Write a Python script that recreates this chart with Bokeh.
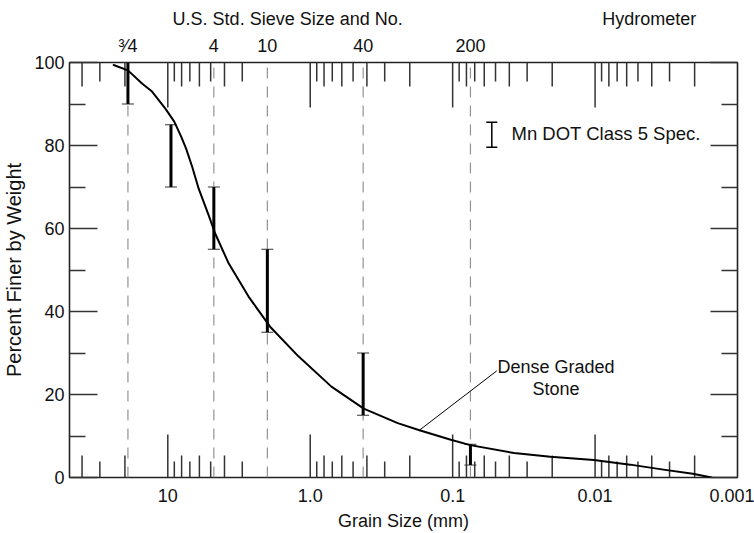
from bokeh.plotting import figure
from bokeh.models import (Range1d, FixedTicker, LogAxis, LinearAxis, Label,
                          Whisker, TeeHead, ColumnDataSource)
from bokeh.embed import file_html
from bokeh.resources import INLINE

FONT = "Liberation Sans"

# Gradation curve of the dense graded stone: grain size (mm) vs percent finer
grain_mm = [24.0, 19.05, 15.1, 12.9, 10.4, 9.03, 8.07, 7.45, 6.76, 6.07, 5.17,
            4.65, 3.74, 2.71, 1.92, 1.21, 0.71, 0.421, 0.243, 0.171, 0.103,
            0.0753, 0.0371, 0.0206, 0.0102, 0.00567, 0.00331, 0.00206, 0.00152]
pct_finer = [99.4, 98.1, 94.9, 93.0, 88.9, 85.8, 82.2, 79.3, 75.0, 69.6, 63.2,
             58.8, 51.6, 43.6, 36.4, 29.2, 21.9, 16.6, 13.1, 11.4, 9.1,
             7.8, 5.9, 5.0, 4.2, 3.1, 1.9, 0.9, 0.0]

# Mn DOT Class 5 specification band at each sieve
spec_mm = [19.05, 9.5, 4.75, 2.0, 0.425, 0.075]
spec_low = [90, 70, 55, 35, 15, 3]
spec_high = [100, 85, 70, 55, 30, 8]

# U.S. standard sieves marked with dashed lines
sieve_mm = [19.05, 4.75, 2.0, 0.425, 0.075]
sieve_names = ["\u00b3\u20444", "4", "10", "40", "200"]

# Headings over the sieve and hydrometer parts of the scale
heading_mm = [1.44, 0.00417]
heading_names = ["U.S. Std. Sieve Size and No.", "Hydrometer"]

# Axis ticks
x_decades = [10, 1, 0.1, 0.01, 0.001]
x_decade_labels = ["10", "1.0", "0.1", "0.01", "0.001"]
y_major = [0, 20, 40, 60, 80, 100]
y_minor = [10, 30, 50, 70, 90]

X_MAX, X_MIN = 49.0, 0.001
Y_MIN, Y_MAX = 0, 100
W, H = 754, 533
B_LEFT, B_RIGHT, B_TOP, B_BOTTOM = 67, 17, 62, 55
px = (Y_MAX - Y_MIN) / (H - B_TOP - B_BOTTOM)   # percent per screen pixel

TICK = "#333333"
TEXT = "#111111"

p = figure(width=W, height=H, x_axis_type="log",
           x_range=Range1d(X_MAX, X_MIN), y_range=Range1d(Y_MIN, Y_MAX),
           output_backend="svg", toolbar_location=None,
           min_border_left=B_LEFT, min_border_right=B_RIGHT,
           min_border_top=B_TOP, min_border_bottom=B_BOTTOM)
p.grid.visible = False
p.outline_line_color = "#222222"
p.outline_line_width = 1.6
p.background_fill_color = "white"
p.border_fill_color = "white"

# dashed sieve lines
n_sieve = len(sieve_mm)
p.segment(x0=sieve_mm, x1=sieve_mm, y0=[Y_MIN] * n_sieve, y1=[Y_MAX] * n_sieve,
          line_color="#929292", line_width=1.2, line_dash="11 8")


# log-paper minor ticks: even multiples long, odd multiples short
def minor_ticks(parity):
    out = []
    for base in x_decades:
        for m in range(2, 10):
            v = base * m
            if m % 2 != parity or not (X_MIN < v < X_MAX):
                continue
            if any(abs(v - s) / s < 0.01 for s in sieve_mm):
                continue
            out.append(v)
    return out


def edge_ticks(xs, bottom_len, top_len):
    n = len(xs)
    p.segment(x0=xs, x1=xs, y0=[Y_MIN] * n, y1=[Y_MIN + bottom_len * px] * n,
              line_color=TICK, line_width=1.5)
    p.segment(x0=xs, x1=xs, y0=[Y_MAX] * n, y1=[Y_MAX - top_len * px] * n,
              line_color=TICK, line_width=1.5)


edge_ticks(minor_ticks(0), 22, 24)
edge_ticks(minor_ticks(1), 16, 19)
edge_ticks([d for d in x_decades if d > X_MIN], 43, 45)

# specification bars
spec = ColumnDataSource(dict(mm=spec_mm, lo=spec_low, hi=spec_high))
p.segment(x0="mm", x1="mm", y0="lo", y1="hi", source=spec,
          line_color="black", line_width=3)
p.add_layout(Whisker(source=spec, base="mm", lower="lo", upper="hi",
                     dimension="height", line_alpha=0,
                     lower_head=TeeHead(size=12, line_width=1, line_color=TICK),
                     upper_head=TeeHead(size=12, line_width=1, line_color=TICK)))

# gradation curve
p.line(grain_mm, pct_finer, line_color="black", line_width=2,
       line_join="round", line_cap="round")

# callout for the curve
p.line([0.171, 0.049], [11.4, 25.7], line_color="black", line_width=1)


def label(x, y, text, size="18px", align="center"):
    p.add_layout(Label(x=x, y=y, text=text, text_font=FONT, text_font_size=size,
                       text_align=align, text_baseline="middle",
                       text_color=TEXT))


label(0.0188, 26.7, "Dense Graded")
label(0.0188, 21.4, "Stone")

# legend
legend_src = ColumnDataSource(dict(x=[0.0531], lo=[79.6], hi=[85.6]))
p.add_layout(Whisker(source=legend_src, base="x", lower="lo", upper="hi",
                     dimension="height", line_width=1.5, line_color="black",
                     lower_head=TeeHead(size=11, line_width=1.5, line_color="black"),
                     upper_head=TeeHead(size=11, line_width=1.5, line_color="black")))
label(0.0386, 82.9, "Mn DOT Class 5 Spec.", size="18.5px", align="left")

# bottom axis
xa = p.xaxis[0]
xa.ticker = FixedTicker(ticks=x_decades)
xa.major_label_overrides = dict(zip(x_decades, x_decade_labels))
xa.major_tick_line_color = None
xa.minor_tick_line_color = None
xa.axis_line_color = None
xa.major_label_text_font = FONT
xa.major_label_text_font_size = "18px"
xa.major_label_text_color = TEXT
xa.major_label_standoff = 5
xa.axis_label = "Grain Size (mm)"
xa.axis_label_text_font = FONT
xa.axis_label_text_font_size = "18px"
xa.axis_label_text_font_style = "normal"
xa.axis_label_text_color = TEXT
xa.axis_label_standoff = 6

# left axis
ya = p.yaxis[0]
ya.ticker = FixedTicker(ticks=y_major, minor_ticks=y_minor)
ya.major_tick_in = 28
ya.major_tick_out = 0
ya.minor_tick_in = 16
ya.minor_tick_out = 0
ya.major_tick_line_color = TICK
ya.minor_tick_line_color = TICK
ya.major_tick_line_width = 1.5
ya.minor_tick_line_width = 1.5
ya.axis_line_color = None
ya.major_label_text_font = FONT
ya.major_label_text_font_size = "18px"
ya.major_label_text_color = TEXT
ya.major_label_standoff = 5
ya.axis_label = "Percent Finer by Weight"
ya.axis_label_text_font = FONT
ya.axis_label_text_font_size = "20px"
ya.axis_label_text_font_style = "normal"
ya.axis_label_text_color = TEXT
ya.axis_label_standoff = 6

# mirrored y ticks on the right edge (no labels)
p.add_layout(LinearAxis(ticker=FixedTicker(ticks=y_major, minor_ticks=y_minor),
                        major_tick_in=27, major_tick_out=0,
                        minor_tick_in=16, minor_tick_out=0,
                        major_tick_line_color=TICK, minor_tick_line_color=TICK,
                        major_tick_line_width=1.5, minor_tick_line_width=1.5,
                        major_label_text_font_size="8px",
                        major_label_text_color=None, major_label_standoff=0,
                        axis_line_color=None), "right")

# sieve numbers above the frame, then the headings above them
p.add_layout(LogAxis(ticker=FixedTicker(ticks=sieve_mm),
                     major_label_overrides=dict(zip(sieve_mm, sieve_names)),
                     major_tick_line_color=None, minor_tick_line_color=None,
                     major_tick_in=0, major_tick_out=0, axis_line_color=None,
                     major_label_text_font=FONT, major_label_text_font_size="18px",
                     major_label_text_color=TEXT, major_label_standoff=7), "above")
p.add_layout(LogAxis(ticker=FixedTicker(ticks=heading_mm),
                     major_label_overrides=dict(zip(heading_mm, heading_names)),
                     major_tick_line_color=None, minor_tick_line_color=None,
                     major_tick_in=0, major_tick_out=0, axis_line_color=None,
                     major_label_text_font=FONT, major_label_text_font_size="18px",
                     major_label_text_color=TEXT, major_label_standoff=4), "above")

open("out.html", "w").write(file_html(p, INLINE))
